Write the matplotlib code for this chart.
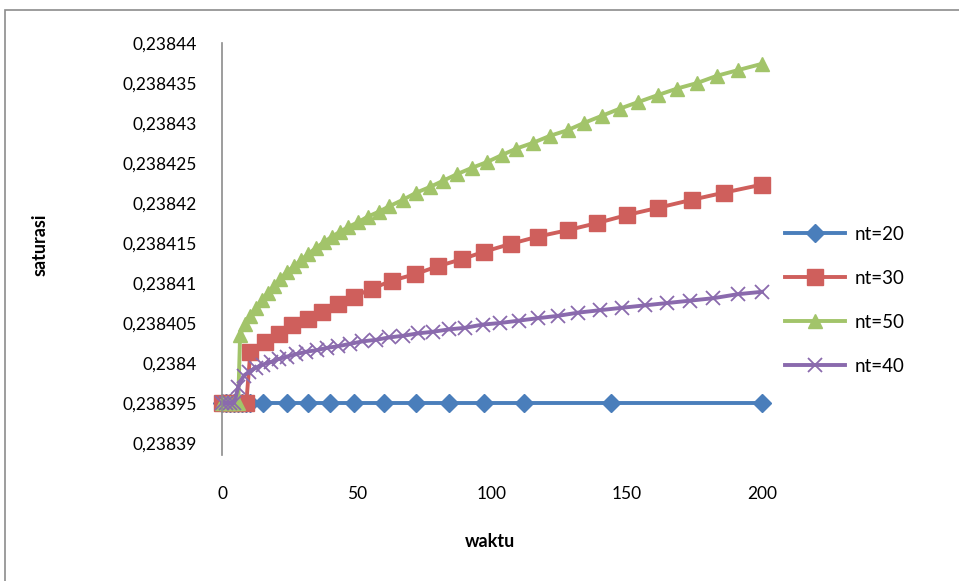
import matplotlib.pyplot as plt
from matplotlib import ticker
from matplotlib.patches import Rectangle

plt.rcParams.update({'font.family': ['Lato', 'DejaVu Sans'], 'font.size': 11})

# nt=20
t20 = [0, 1.5, 3, 4.5, 6, 7.5, 9, 10.5, 15, 24, 32, 40, 49, 60, 72, 84, 97, 112, 144, 200]
s20 = [0.238395] * len(t20)

# nt=30
t30 = [0, 3, 6, 9, 10.5, 16, 21, 26, 32, 37, 43, 49, 55.5, 63, 71.5, 80, 89, 97,
       107, 117, 128, 139, 150, 161.5, 174, 186, 200]
s30 = [0.238395, 0.238395, 0.238395, 0.238395, 0.2384014, 0.2384026, 0.2384036,
       0.2384048, 0.2384055, 0.2384064, 0.2384074, 0.2384083, 0.2384093, 0.2384103,
       0.2384111, 0.2384121, 0.238413, 0.2384139, 0.2384149, 0.2384158, 0.2384166,
       0.2384175, 0.2384185, 0.2384194, 0.2384204, 0.2384213, 0.2384223]

# nt=50
t50 = [0, 1.5, 3, 4.5, 6, 6.7, 8.5, 10.4, 12.6, 14.8, 17, 19.3, 21.5, 24, 26.7, 29.3,
       31.9, 34.8, 37.8, 40.7, 43.7, 46.7, 50.4, 54, 58, 62, 67, 72, 77, 82, 87, 92.6,
       98, 103.7, 109, 115, 121.5, 128, 134, 140.7, 147.4, 154, 161.5, 168.5, 176,
       183.3, 191, 200]
s50 = [0.238395, 0.238395, 0.238395, 0.238395, 0.238395, 0.2384035, 0.2384049,
       0.2384059, 0.2384069, 0.2384079, 0.2384088, 0.2384096, 0.2384105, 0.2384114,
       0.2384121, 0.2384129, 0.2384136, 0.2384144, 0.2384151, 0.2384158, 0.2384164,
       0.238417, 0.2384176, 0.2384183, 0.2384189, 0.2384196, 0.2384204, 0.2384213,
       0.238422, 0.2384228, 0.2384236, 0.2384244, 0.2384251, 0.238426, 0.2384268,
       0.2384275, 0.2384284, 0.2384291, 0.23843, 0.2384309, 0.2384318, 0.2384326,
       0.2384335, 0.2384343, 0.238435, 0.2384359, 0.2384366, 0.2384374]

# nt=40
t40 = [0, 1.5, 3, 4.5, 6, 8, 10, 12.5, 15, 18, 21, 24, 27.5, 31, 35, 39, 43, 47.5,
       52, 57, 62, 67, 72.5, 78, 84, 90, 96.5, 103, 110, 117, 124.5, 132, 140, 148,
       156.5, 165, 173.5, 182, 191, 200]
s40 = [0.238395, 0.238395, 0.238395, 0.238395, 0.238397, 0.2383984, 0.2383989,
       0.2383994, 0.2383998, 0.2384001, 0.2384005, 0.2384008, 0.2384011, 0.2384014,
       0.2384016, 0.2384019, 0.2384021, 0.2384024, 0.2384027, 0.2384029, 0.2384032,
       0.2384034, 0.2384037, 0.2384039, 0.2384042, 0.2384044, 0.2384048, 0.238405,
       0.2384053, 0.2384056, 0.2384059, 0.2384063, 0.2384066, 0.2384069, 0.2384072,
       0.2384075, 0.2384078, 0.2384081, 0.2384086, 0.2384089]

yticks = [0.23839, 0.238395, 0.2384, 0.238405, 0.23841, 0.238415, 0.23842,
          0.238425, 0.23843, 0.238435, 0.23844]
xticks = [0, 50, 100, 150, 200]

fig = plt.figure(figsize = (9.59, 5.81), dpi = 100)
fig.patches.append(Rectangle((5 / 959, -0.1), 1.2, (571 / 581) + 0.1, transform = fig.transFigure,
                             fill = False, edgecolor = '#8c8c8c', linewidth = 1.2))
ax = fig.add_axes([222 / 959, 1 - 443 / 581, 540 / 959, 400 / 581])

ax.plot(t20, s20, color = '#4a7ebb', lw = 2.8, marker = 'D', ms = 9, label = 'nt=20', clip_on = False)
ax.plot(t30, s30, color = '#cf5f5c', lw = 2.8, marker = 's', ms = 11.5, label = 'nt=30', clip_on = False)
ax.plot(t50, s50, color = '#a2c46a', lw = 2.8, marker = '^', ms = 10.5, label = 'nt=50', clip_on = False)
ax.plot(t40, s40, color = '#8a6aad', lw = 2.8, marker = 'x', ms = 9.5, mew = 1.3, label = 'nt=40', clip_on = False)

ax.set_xlim(0, 200)
ax.set_ylim(0.23839, 0.23844)
ax.set_xticks(xticks)
ax.set_yticks(yticks)
ax.yaxis.set_major_formatter(ticker.FuncFormatter(lambda v, p: ('%g' % v).replace('.', ',')))
for s in ['top', 'right', 'bottom']:
    ax.spines[s].set_visible(False)
ax.spines['left'].set_color('#8c8c8c')
ax.spines['left'].set_linewidth(1.2)
ax.spines['left'].set_bounds(0.23839 - 0.0000015, 0.23844)
ax.tick_params(axis = 'y', length = 0, pad = 18, labelsize = 12.5)
ax.tick_params(axis = 'x', length = 0, pad = 31, labelsize = 12.5)

ax.set_xlabel('waktu', fontweight = 'bold', fontsize = 13)
ax.set_ylabel('saturasi', fontweight = 'bold', fontsize = 13)
ax.xaxis.set_label_coords(0.496, -0.226)
ax.yaxis.set_label_coords(-0.322, 0.495)

ax.legend(loc = 'center left', bbox_to_anchor = (1.043, 0.3575), frameon = False, fontsize = 13.5,
          borderaxespad = 0, borderpad = 0, handlelength = 3.2, labelspacing = 1.44,
          handletextpad = 0.5)

fig.savefig('out.png', dpi = 100)
